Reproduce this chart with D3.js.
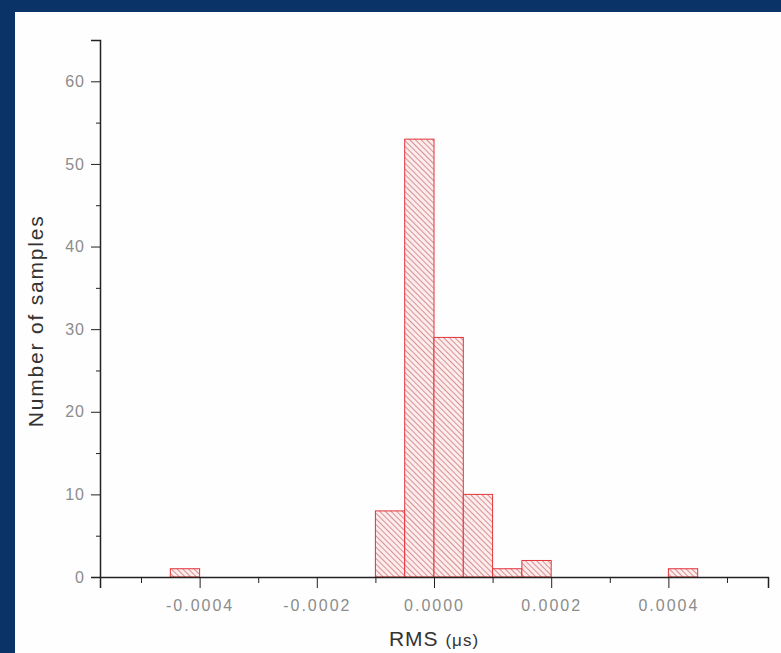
<!DOCTYPE html>
<html>
<head>
<meta charset="utf-8">
<script src="https://cdn.jsdelivr.net/npm/d3@7"></script>
<style>
  body { margin: 0; background: #0a3468; }
  svg { display: block; font-family: "Liberation Sans", Arial, sans-serif; }
  .axis path, .axis line { stroke: #222; }
  .axis text { fill: #8c8c8c; font-size: 16px; }
</style>
</head>
<body>
<div id="chart"></div>
<script>
// histogram bins (left edge in seconds) and their counts
const binStarts = [-0.00045, -0.0001, -0.00005, 0, 0.00005, 0.0001, 0.00015, 0.0004];
const binWidth = 0.00005;
const counts = [1, 8, 53, 29, 10, 1, 2, 1];

const xTicks = [-0.0004, -0.0002, 0, 0.0002, 0.0004];
const xMinorTicks = [-0.0005, -0.0003, -0.0001, 0.0001, 0.0003, 0.0005];
const yTicks = [0, 10, 20, 30, 40, 50, 60];
const yMinorTicks = [5, 15, 25, 35, 45, 55, 65];

const xLabel = 'RMS';
const xUnit = '(\u03bcs)';
const yLabel = 'Number of samples';

const config = {
  width: 781,
  height: 653,
  margin: { top: 40, right: 13, bottom: 76, left: 100 }
};

const svg = d3.select('#chart').append('svg')
  .attr('width', config.width)
  .attr('height', config.height);

// dark blue frame + white panel
svg.append('rect')
  .attr('width', config.width).attr('height', config.height)
  .attr('fill', '#0a3468');
svg.append('rect')
  .attr('x', 15).attr('y', 12)
  .attr('width', config.width - 15).attr('height', config.height - 12)
  .attr('fill', '#fefefe');

// hatch pattern for the bars
const defs = svg.append('defs');
const pattern = defs.append('pattern')
  .attr('id', 'hatch')
  .attr('patternUnits', 'userSpaceOnUse')
  .attr('width', 4).attr('height', 4)
  .attr('patternTransform', 'rotate(-45)');
pattern.append('rect')
  .attr('width', 4).attr('height', 4)
  .attr('fill', '#fcecec');
pattern.append('line')
  .attr('x1', 0).attr('y1', 0).attr('x2', 0).attr('y2', 4)
  .attr('stroke', '#b8464b')
  .attr('stroke-width', 1.1);

const innerW = config.width - config.margin.left - config.margin.right;
const innerH = config.height - config.margin.top - config.margin.bottom;

const chart = svg.append('g')
  .attr('transform', `translate(${config.margin.left},${config.margin.top})`);

const xScale = d3.scaleLinear()
  .domain([-0.00057, 0.00057])
  .range([0, innerW]);

const yScale = d3.scaleLinear()
  .domain([0, 65])
  .range([innerH, 0]);

const bins = binStarts.map((b, i) => ({ x0: b, x1: b + binWidth, count: counts[i] }));

chart.selectAll('.bar')
  .data(bins)
  .join('rect')
  .attr('class', 'bar')
  .attr('x', d => xScale(d.x0))
  .attr('y', d => yScale(d.count))
  .attr('width', d => xScale(d.x1) - xScale(d.x0))
  .attr('height', d => yScale(0) - yScale(d.count))
  .attr('fill', 'url(#hatch)')
  .attr('stroke', '#e2343a')
  .attr('stroke-width', 1);

// axes
const xAxis = d3.axisBottom(xScale)
  .tickValues(xTicks)
  .tickSize(11)
  .tickPadding(12)
  .tickFormat(d => d.toFixed(4));

const xMinor = d3.axisBottom(xScale)
  .tickValues(xMinorTicks)
  .tickSize(6)
  .tickFormat('');

const yAxis = d3.axisLeft(yScale)
  .tickValues(yTicks)
  .tickSize(9)
  .tickPadding(6)
  .tickFormat(d3.format('d'));

const yMinor = d3.axisLeft(yScale)
  .tickValues(yMinorTicks)
  .tickSize(4)
  .tickFormat('');

chart.append('g')
  .attr('class', 'axis x-axis')
  .attr('transform', `translate(0,${innerH})`)
  .call(xAxis)
  .call(g => g.selectAll('text').style('letter-spacing', '2px'));

chart.append('g')
  .attr('class', 'axis x-minor')
  .attr('transform', `translate(0,${innerH})`)
  .call(xMinor)
  .call(g => g.select('.domain').remove());

chart.append('g')
  .attr('class', 'axis y-axis')
  .call(yAxis)
  .call(g => g.selectAll('text').style('letter-spacing', '1px'));

chart.append('g')
  .attr('class', 'axis y-minor')
  .call(yMinor)
  .call(g => g.select('.domain').remove());

chart.selectAll('.domain')
  .attr('stroke-width', 1.5);

// axis titles
const xTitle = chart.append('text')
  .attr('x', xScale(0))
  .attr('y', innerH + 69)
  .attr('text-anchor', 'middle')
  .attr('fill', '#333')
  .style('font-size', '21px')
  .style('letter-spacing', '1px');
xTitle.append('tspan').text(xLabel + ' ');
xTitle.append('tspan').style('font-size', '17px').text(xUnit);

chart.append('text')
  .attr('transform', `translate(${-100 + 43},${yScale(31)}) rotate(-90)`)
  .attr('text-anchor', 'middle')
  .attr('fill', '#333')
  .style('font-size', '21px')
  .style('letter-spacing', '1.8px')
  .text(yLabel);
</script>
</body>
</html>
